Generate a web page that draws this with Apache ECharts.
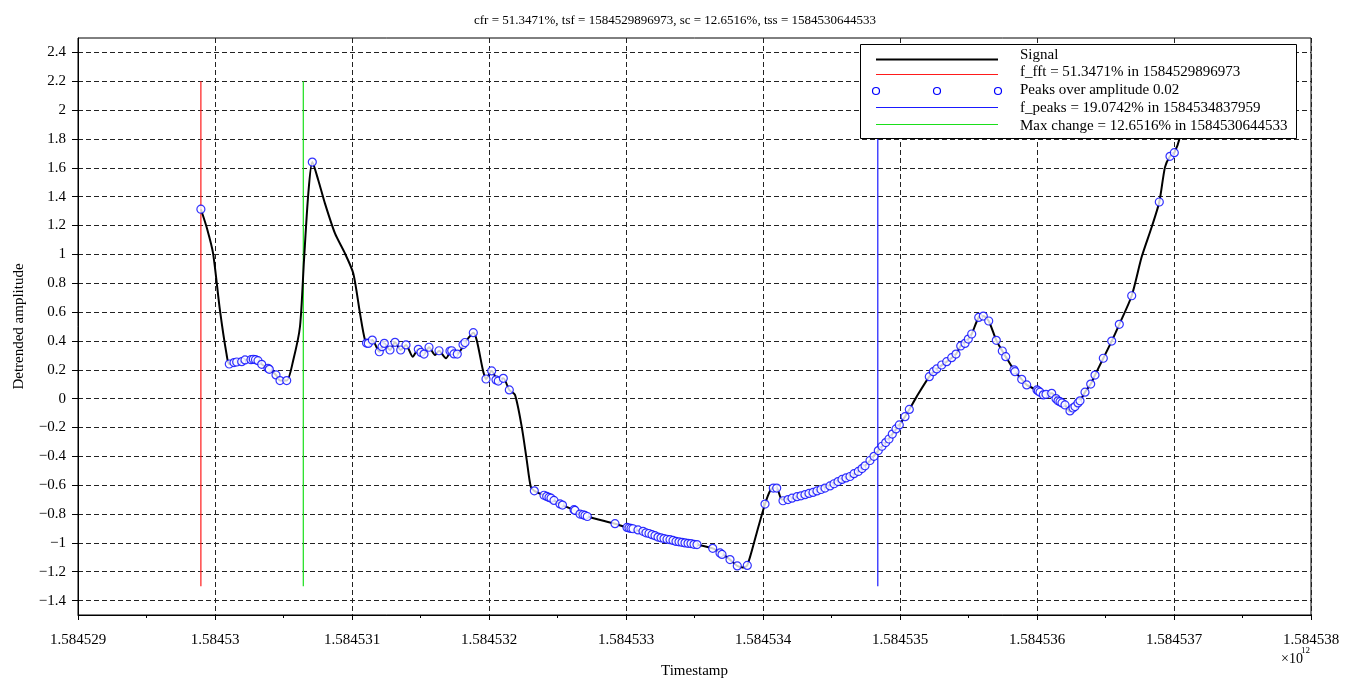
<!DOCTYPE html>
<html><head><meta charset="utf-8">
<script src="https://cdn.jsdelivr.net/npm/echarts@6/dist/echarts.min.js"></script>
<style>html,body{margin:0;padding:0;background:#fff}#c{width:1350px;height:680px}</style>
</head><body><div id="c"></div>
<script>
// ---------- data ----------
const T0 = 1584529000000; // ms, base timestamp; offsets below are in seconds
const titleText = 'cfr = 51.3471%, tsf = 1584529896973, sc = 12.6516%, tss = 1584530644533';
const xName = 'Timestamp';
const yName = 'Detrended amplitude';
const xMin = 1584529000000, xMax = 1584538000000, xStep = 1000000;
const yMin = -1.5, yMax = 2.5;
const yTicks = [-1.4,-1.2,-1,-0.8,-0.6,-0.4,-0.2,0,0.2,0.4,0.6,0.8,1,1.2,1.4,1.6,1.8,2,2.2,2.4];
const legendLabels = ['Signal','f_fft = 51.3471% in 1584529896973','Peaks over amplitude 0.02','f_peaks = 19.0742% in 1584534837959','Max change = 12.6516% in 1584530644533'];
const vlineTimes = [1584529896973, 1584534837959, 1584530644533]; // f_fft, f_peaks, max change
const vlineLow = -1.3, vlineHigh = 2.2;

const signalPoints = [
[897.0,1.313],[941.6,1.18],[985.4,1.01],[1036.5,0.61],[1084.0,0.31],[1104.4,0.240],[1158.4,0.254],[1194.9,0.256],
[1219.0,0.268],[1279.6,0.273],[1313.9,0.263],[1340.9,0.238],[1396.4,0.203],[1445.3,0.164],[1474.5,0.125],[1523.4,0.125],
[1571.5,0.268],[1620.4,0.50],[1649.6,0.96],[1681.0,1.42],[1710.2,1.640],[1754.0,1.514],[1802.9,1.352],[1875.9,1.145],
[1948.9,1.006],[2009.5,0.868],[2058.4,0.591],[2094.9,0.406],[2119.0,0.383],[2148.2,0.406],[2199.3,0.325],[2235.8,0.383],
[2277.4,0.337],[2313.9,0.390],[2355.5,0.337],[2394.2,0.372],[2443.1,0.291],[2484.0,0.342],[2525.6,0.309],[2562.1,0.356],
[2605.9,0.302],[2635.0,0.332],[2686.1,0.280],[2727.8,0.332],[2768.6,0.309],[2824.8,0.389],[2885.4,0.457],[2958.4,0.187],
[2978.1,0.136],[3019.7,0.192],[3067.9,0.122],[3104.4,0.141],[3148.2,0.060],[3189.8,0.026],[3238.7,-0.194],[3275.2,-0.424],
[3304.4,-0.609],[3330.7,-0.639],[3421.2,-0.678],[3474.5,-0.706],[3530.7,-0.736],[3627.8,-0.775],[3717.5,-0.817],[3919.7,-0.867],
[4016.8,-0.897],[4151.1,-0.931],[4248.2,-0.966],[4345.3,-0.983],[4443.1,-1.001],[4516.1,-1.012],[4632.9,-1.038],[4698.6,-1.075],
[4759.1,-1.116],[4812.4,-1.160],[4854.0,-1.17],[4885.4,-1.156],[4954.0,-0.931],[5014.6,-0.731],[5051.1,-0.64],[5075.2,-0.620],
[5100.0,-0.62],[5138.7,-0.70],[5197.1,-0.695],[5270.1,-0.675],[5343.1,-0.655],[5416.1,-0.63],[5489.1,-0.60],[5562.1,-0.558],
[5635.1,-0.540],[5695.6,-0.505],[5744.6,-0.466],[5781.0,-0.429],[5841.6,-0.360],[5895.6,-0.305],[5943.9,-0.246],[5994.9,-0.182],
[6036.5,-0.125],[6068.0,-0.075],[6121.9,0.014],[6213.9,0.152],[6267.9,0.206],[6340.9,0.256],[6408.8,0.309],[6443.1,0.365],
[6498.6,0.413],[6523.4,0.448],[6574.5,0.563],[6608.1,0.572],[6647.5,0.538],[6703.0,0.404],[6746.7,0.330],[6771.6,0.291],
[6839.4,0.187],[6888.4,0.134],[6924.8,0.095],[7009.5,0.053],[7046.0,0.026],[7107.3,0.037],[7167.9,-0.021],[7204.4,-0.044],
[7240.9,-0.090],[7277.4,-0.055],[7313.9,-0.015],[7350.4,0.045],[7392.0,0.101],[7423.4,0.163],[7484.0,0.280],[7545.3,0.399],
[7600.8,0.515],[7691.3,0.713],[7764.3,0.983],[7837.3,1.190],[7892.7,1.363],[7934.3,1.605],[7970.8,1.680],[8002.2,1.705],
[8043.8,1.813],[8102.2,2.1],[8160.6,2.4]
];

const peakPoints = [
[897.0,1.313],[1104.4,0.240],[1138.7,0.25],[1158.4,0.254],[1194.9,0.256],[1219.0,0.268],[1262.8,0.27],[1279.6,0.273],
[1295.6,0.27],[1313.9,0.263],[1340.9,0.238],[1386.9,0.21],[1396.4,0.203],[1445.3,0.164],[1474.5,0.125],[1523.4,0.125],
[1710.2,1.640],[2105.9,0.385],[2119.0,0.383],[2148.2,0.406],[2199.3,0.325],[2219.0,0.36],[2235.8,0.383],[2277.4,0.337],
[2313.9,0.390],[2355.5,0.337],[2394.2,0.372],[2484.0,0.342],[2503.7,0.32],[2525.6,0.309],[2562.1,0.356],[2635.0,0.332],
[2715.3,0.33],[2727.8,0.332],[2744.5,0.31],[2768.6,0.309],[2810.2,0.375],[2824.8,0.389],[2885.4,0.457],[2978.1,0.136],
[3019.7,0.192],[3051.1,0.13],[3067.9,0.122],[3104.4,0.141],[3148.2,0.060],[3330.7,-0.639],[3401.5,-0.67],[3421.2,-0.678],
[3437.9,-0.685],[3452.6,-0.69],[3474.5,-0.706],[3518.3,-0.73],[3536.5,-0.738],[3620.5,-0.77],[3627.8,-0.775],[3664.3,-0.800],
[3686.1,-0.805],[3700.7,-0.81],[3717.5,-0.817],[3919.7,-0.867],[4007.3,-0.893],[4021.9,-0.897],[4036.5,-0.90],[4051.1,-0.902],
[4087.6,-0.91],[4124.1,-0.92],[4146.0,-0.93],[4167.9,-0.935],[4189.8,-0.943],[4211.7,-0.95],[4233.6,-0.96],[4255.5,-0.965],
[4277.4,-0.97],[4299.3,-0.975],[4321.2,-0.978],[4343.1,-0.983],[4365.0,-0.99],[4386.9,-0.993],[4408.8,-0.996],[4430.7,-1.0],
[4452.6,-1.003],[4474.5,-1.005],[4496.4,-1.01],[4518.3,-1.012],[4632.9,-1.038],[4686.2,-1.07],[4700.8,-1.08],[4759.1,-1.116],
[4812.4,-1.160],[4885.4,-1.156],[5014.6,-0.731],[5075.2,-0.620],[5100.0,-0.62],[5146.0,-0.708],[5182.5,-0.70],[5211.9,-0.69],
[5248.2,-0.68],[5277.4,-0.674],[5306.6,-0.666],[5335.8,-0.657],[5365.0,-0.65],[5394.2,-0.64],[5423.4,-0.63],[5452.6,-0.62],
[5489.1,-0.605],[5518.3,-0.59],[5547.5,-0.575],[5576.7,-0.56],[5605.9,-0.55],[5635.1,-0.540],[5664.3,-0.52],[5695.6,-0.505],
[5722.7,-0.485],[5744.6,-0.466],[5781.0,-0.429],[5810.2,-0.40],[5841.6,-0.360],[5868.6,-0.33],[5895.6,-0.305],[5919.7,-0.28],
[5943.9,-0.246],[5970.8,-0.21],[5994.9,-0.182],[6036.5,-0.125],[6068.0,-0.075],[6213.9,0.152],[6243.1,0.187],[6267.9,0.206],
[6304.4,0.233],[6340.9,0.256],[6377.4,0.284],[6408.8,0.309],[6443.1,0.365],[6474.5,0.383],[6498.6,0.413],[6523.4,0.448],
[6574.5,0.563],[6608.1,0.572],[6647.5,0.538],[6703.0,0.404],[6746.7,0.330],[6771.6,0.291],[6832.1,0.20],[6839.4,0.187],
[6888.4,0.134],[6924.8,0.095],[7000.0,0.06],[7009.5,0.053],[7021.9,0.045],[7046.0,0.026],[7065.7,0.03],[7107.3,0.037],
[7138.7,0.0],[7153.3,-0.015],[7167.9,-0.021],[7182.5,-0.03],[7204.4,-0.044],[7240.9,-0.085],[7262.8,-0.065],[7277.4,-0.055],
[7299.3,-0.03],[7313.9,-0.015],[7350.4,0.045],[7392.0,0.101],[7423.4,0.163],[7484.0,0.280],[7545.3,0.399],[7600.8,0.515],
[7691.3,0.713],[7892.7,1.363],[7970.8,1.680],[8002.2,1.705]
];

// ---------- chart ----------
const FONT = 'Liberation Serif';
const toXY = p => [T0 + p[0] * 1000, p[1]];
const vColors = ['#ff1a1a', '#1a1aff', '#1adf1a'];

const series = [];
vlineTimes.forEach((t, i) => {
  series.push({
    type: 'line', data: [[t, vlineLow], [t, vlineHigh]], symbol: 'none', silent: true,
    lineStyle: { color: vColors[i], width: 1.2 }, z: 1
  });
});
series.push({
  type: 'line', data: signalPoints.map(toXY), symbol: 'none', smooth: 0.25,
  lineStyle: { color: '#000', width: 2 }, z: 3
});
series.push({
  type: 'scatter', data: peakPoints.map(toXY), symbol: 'circle', symbolSize: 8,
  itemStyle: { color: '#fff', borderColor: '#0000ff', borderWidth: 1.2 }, z: 4
});

const fmtY = v => { const s = String(+(+v).toFixed(1)); return s.replace('-', '\u2212'); };
const fmtX = v => String(+(v / 1e12).toFixed(6));

const legendGroup = [];
const lx1 = 876, lx2 = 998, tx = 1020;
const rowLineY = [59.5, 74.5, 91, 107.5, 124.5];
const rowTextY = [55, 72.5, 90.5, 108.5, 126];
const L = { zlevel: 1, z: 10 };
legendGroup.push(Object.assign({ type: 'rect', shape: { x: 860.5, y: 44.5, width: 436, height: 94 }, style: { fill: '#fff', stroke: '#000', lineWidth: 1 } }, L));
legendGroup.push(Object.assign({ type: 'line', shape: { x1: lx1, y1: rowLineY[0], x2: lx2, y2: rowLineY[0] }, style: { stroke: '#000', lineWidth: 2 } }, L, { z: 11 }));
legendGroup.push(Object.assign({ type: 'line', shape: { x1: lx1, y1: rowLineY[1], x2: lx2, y2: rowLineY[1] }, style: { stroke: vColors[0], lineWidth: 1.2 } }, L, { z: 11 }));
[lx1, (lx1 + lx2) / 2, lx2].forEach(cx => legendGroup.push(Object.assign({ type: 'circle', shape: { cx: cx, cy: rowLineY[2], r: 3.5 }, style: { fill: '#fff', stroke: '#0000ff', lineWidth: 1.2 } }, L, { z: 11 })));
legendGroup.push(Object.assign({ type: 'line', shape: { x1: lx1, y1: rowLineY[3], x2: lx2, y2: rowLineY[3] }, style: { stroke: vColors[1], lineWidth: 1.2 } }, L, { z: 11 }));
legendGroup.push(Object.assign({ type: 'line', shape: { x1: lx1, y1: rowLineY[4], x2: lx2, y2: rowLineY[4] }, style: { stroke: vColors[2], lineWidth: 1.2 } }, L, { z: 11 }));
legendLabels.forEach((s, i) => legendGroup.push(Object.assign({ type: 'text', x: tx, y: rowTextY[i], style: { text: s, font: '15px "' + FONT + '"', fill: '#000', verticalAlign: 'middle', align: 'left' } }, L, { z: 11 })));

const option = {
  animation: false,
  backgroundColor: '#fff',
  title: { text: titleText, left: 'center', top: 9, textStyle: { fontFamily: FONT, fontSize: 13, fontWeight: 'normal', color: '#000' } },
  grid: { left: 78, right: 39, top: 38, bottom: 65, outerBoundsMode: 'none', containLabel: false, show: true, borderColor: '#000', borderWidth: 1, backgroundColor: 'transparent' },
  xAxis: {
    type: 'value', min: xMin, max: xMax, interval: xStep,
    name: xName, nameLocation: 'middle', nameGap: 49,
    nameTextStyle: { fontFamily: FONT, fontSize: 15, color: '#000' },
    axisLine: { show: true, onZero: false, lineStyle: { color: '#000', width: 1 } },
    axisTick: { show: true, inside: false, length: 5, lineStyle: { color: '#000' } },
    minorTick: { show: true, splitNumber: 2, length: 3, lineStyle: { color: '#000' } },
    axisLabel: { formatter: fmtX, fontFamily: FONT, fontSize: 15, color: '#000', margin: 18 },
    splitLine: { show: true, lineStyle: { color: '#222', type: [5, 3], width: 1 } }
  },
  yAxis: {
    type: 'value', min: yMin, max: yMax,
    name: yName, nameLocation: 'middle', nameGap: 51, nameRotate: 90,
    nameTextStyle: { fontFamily: FONT, fontSize: 15, color: '#000' },
    axisLine: { show: true, onZero: false, lineStyle: { color: '#000', width: 1 } },
    axisTick: { show: true, inside: false, length: 6, customValues: yTicks, lineStyle: { color: '#000' } },
    axisLabel: { customValues: yTicks, formatter: fmtY, fontFamily: FONT, fontSize: 15, color: '#000', margin: 12 },
    splitLine: { show: true, lineStyle: { color: '#222', type: [5, 3], width: 1 } }
  },
  graphic: [
    { type: 'group', zlevel: 1, z: 10, children: legendGroup },
    { type: 'text', z: 100, x: 1281, y: 659, style: { text: '\u00d710', font: '14px "' + FONT + '"', fill: '#000', verticalAlign: 'middle' } },
    { type: 'text', z: 100, x: 1301, y: 651, style: { text: '12', font: '9px "' + FONT + '"', fill: '#000', verticalAlign: 'middle' } }
  ],
  series: series
};
const chart = echarts.init(document.getElementById('c'), null, { renderer: 'canvas' });
chart.setOption(option);
</script></body></html>
